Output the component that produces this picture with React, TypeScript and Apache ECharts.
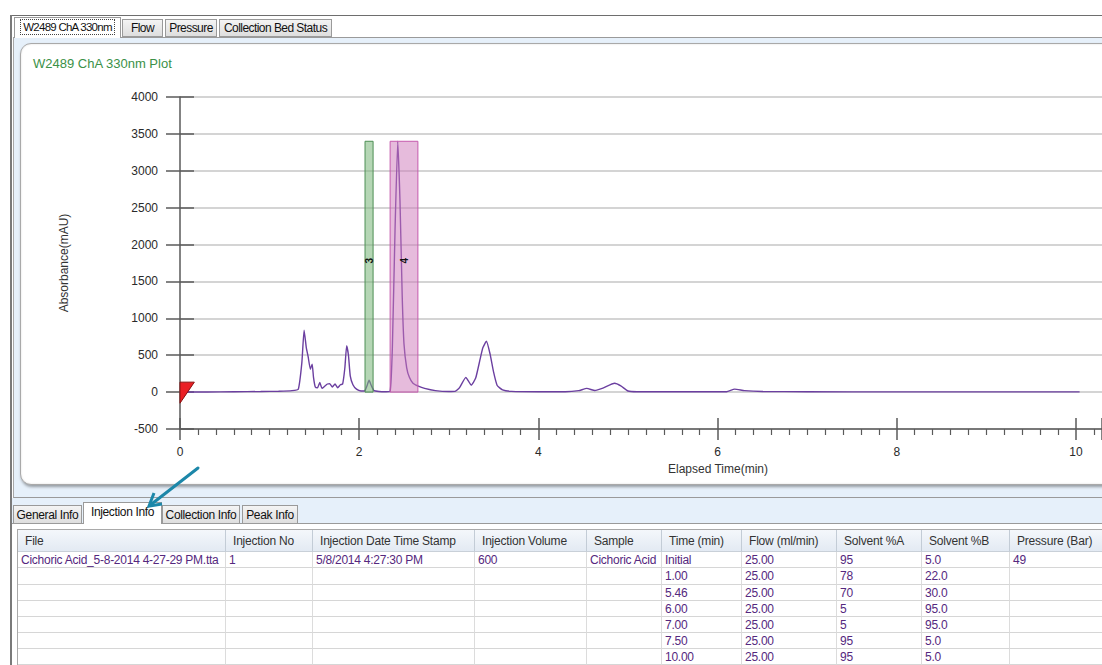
import React, { useEffect, useRef } from "react";
import * as echarts from "echarts";

// ---- Chromatogram data (Elapsed Time (min), Absorbance (mAU)) ----
const times = [
  0, 0.3, 0.6, 0.9, 1.1, 1.25, 1.32, 1.36, 1.385, 1.41, 1.43, 1.455, 1.475, 1.49, 1.51, 1.535, 1.56, 1.585,
  1.615, 1.645, 1.67, 1.7, 1.73, 1.76, 1.79, 1.815, 1.84, 1.86, 1.88, 1.9, 1.93, 1.97, 2.02, 2.06, 2.085,
  2.11, 2.135, 2.165, 2.22, 2.3, 2.345, 2.37, 2.4, 2.43, 2.455, 2.48, 2.5, 2.53, 2.56, 2.6, 2.66, 2.73,
  2.85, 3.0, 3.07, 3.12, 3.19, 3.25, 3.3, 3.35, 3.38, 3.42, 3.46, 3.5, 3.54, 3.6, 3.7, 4.0, 4.3, 4.45,
  4.54, 4.63, 4.72, 4.85, 4.92, 5.0, 5.1, 5.5, 6.1, 6.19, 6.3, 6.5, 7.0, 8.0, 9.0, 10.04,
];
const absorbance = [
  0, 2, 5, 8, 12, 20, 40, 400, 840, 600, 480, 310, 380, 200, 70, 60, 130, 50,
  80, 110, 115, 70, 110, 60, 100, 110, 330, 630, 500, 220, 100, 40, 15, 15, 80,
  160, 90, 20, 8, 5, 10, 600, 2200, 3400, 2600, 1300, 650, 330, 200, 120, 80, 50,
  20, 8, 10, 60, 200, 95, 190, 450, 600, 690, 520, 270, 90, 30, 10, 5, 5, 20,
  50, 22, 55, 120, 85, 15, 5, 4, 5, 40, 20, 8, 5, 3, 3, 3,
];

// Collected fractions
const fractions = [
  { label: "3", start: 2.065, end: 2.155, top: 3400 },
  { label: "4", start: 2.345, end: 2.655, top: 3400 },
];

// Injection marker triangle (data space)
const injectionMarker = [
  [0, 135],
  [0.16, 135],
  [0, -150],
];

// ---- UI text ----
const topTabs = ["W2489 ChA 330nm", "Flow", "Pressure", "Collection Bed Status"];
const bottomTabs = ["General Info", "Injection Info", "Collection Info", "Peak Info"];
const tableHeaders = [
  "File", "Injection No", "Injection Date Time Stamp", "Injection Volume", "Sample",
  "Time (min)", "Flow (ml/min)", "Solvent %A", "Solvent %B", "Pressure (Bar)",
];
const gradientTimes = ["Initial", "1.00", "5.46", "6.00", "7.00", "7.50", "10.00"];
const gradientFlow = ["25.00", "25.00", "25.00", "25.00", "25.00", "25.00", "25.00"];
const solventA = ["95", "78", "70", "5", "5", "95", "95"];
const solventB = ["5.0", "22.0", "30.0", "95.0", "95.0", "5.0", "5.0"];
const firstRow = ["Cichoric Acid_5-8-2014 4-27-29 PM.tta", "1", "5/8/2014 4:27:30 PM", "600", "Cichoric Acid"];
const pressure = ["49", "", "", "", "", "", ""];

const FONT = '"Liberation Sans", Arial, sans-serif';

const colLefts = [18, 226, 313, 475, 587, 662, 742, 837, 922, 1010, 1110];

function Chart() {
  const ref = useRef<HTMLDivElement>(null);
  useEffect(() => {
    if (!ref.current) return;
    const chart = echarts.init(ref.current, undefined, { renderer: "svg" });
    const data = times.map((t, i) => [t, absorbance[i]]);
    const axisColor = "#5a5a5a";
    const labelStyle = { color: "#2a2a2a", fontSize: 12, fontFamily: FONT };
    const xCommon = {
      type: "value" as const,
      min: 0,
      max: 10.29,
      interval: 2,
      gridIndex: 0,
    };
    const yCommon = {
      type: "value" as const,
      min: -500,
      max: 4000,
      interval: 500,
      gridIndex: 0,
    };
    const arrowFrom = [198, 468];
    const arrowTip = [149, 506];
    chart.setOption({
      animation: false,
      backgroundColor: "transparent",
      grid: { left: 180, top: 97, right: 0, bottom: 236, containLabel: false },
      xAxis: [
        {
          ...xCommon,
          position: "bottom",
          axisLine: { show: true, onZero: false, lineStyle: { color: axisColor, width: 1.5 } },
          axisTick: { show: true, inside: false, length: 11, lineStyle: { color: axisColor, width: 1.5 } },
          minorTick: { show: true, splitNumber: 10, length: 6, lineStyle: { color: axisColor, width: 1.2 } },
          axisLabel: { ...labelStyle, margin: 17, showMaxLabel: false, formatter: (v: number) => String(v) },
          splitLine: { show: false },
        },
        {
          ...xCommon,
          position: "bottom",
          axisLine: { show: false, onZero: false },
          axisTick: { show: true, inside: true, length: 11, lineStyle: { color: axisColor, width: 1.5 } },
          axisLabel: { show: false },
          splitLine: { show: false },
        },
      ],
      yAxis: [
        {
          ...yCommon,
          position: "left",
          axisLine: { show: true, onZero: false, lineStyle: { color: axisColor, width: 1.5 } },
          axisTick: { show: true, inside: false, length: 14, lineStyle: { color: axisColor, width: 1.5 } },
          axisLabel: { ...labelStyle, margin: 22, formatter: (v: number) => String(v) },
          splitLine: { show: true, lineStyle: { color: "#c6c6c6", width: 1.5 } },
        },
        {
          ...yCommon,
          position: "left",
          axisLine: { show: false, onZero: false },
          axisTick: { show: true, inside: true, length: 14, lineStyle: { color: axisColor, width: 1.5 } },
          axisLabel: { show: false },
          splitLine: { show: false },
        },
      ],
      series: [
        {
          type: "line",
          xAxisIndex: 0,
          yAxisIndex: 0,
          data,
          showSymbol: false,
          smooth: 0.15,
          lineStyle: { color: "#6b3fa0", width: 1.4 },
          z: 3,
          markArea: {
            silent: true,
            z: 4,
            label: {
              show: true,
              position: "inside",
              rotate: 90,
              color: "#111",
              fontSize: 10,
              fontWeight: "bold",
              fontFamily: FONT,
              offset: [6, 0],
            },
            data: fractions.map((f, i) => [
              {
                name: f.label,
                xAxis: f.start,
                yAxis: 0,
                itemStyle:
                  i === 0
                    ? { color: "rgba(120,180,120,0.55)", borderColor: "#4e8f55", borderWidth: 1 }
                    : { color: "rgba(205,120,185,0.5)", borderColor: "#c55aae", borderWidth: 1 },
              },
              { xAxis: f.end, yAxis: f.top },
            ]),
          },
        },
        {
          type: "custom",
          xAxisIndex: 0,
          yAxisIndex: 0,
          data: [[0, 0]],
          z: 6,
          renderItem: (_params: any, api: any) => {
            const pts = injectionMarker.map((p) => api.coord(p));
            return {
              type: "polygon",
              shape: { points: pts },
              style: { fill: "#ea1f25", stroke: "#8a1010", lineWidth: 1 },
            };
          },
        },
      ],
      graphic: [
        {
          type: "text",
          left: 33,
          top: 57,
          style: { text: "W2489 ChA 330nm Plot", fill: "#3b9147", fontSize: 13, fontFamily: FONT },
        },
        {
          type: "text",
          x: 64,
          y: 263,
          rotation: Math.PI / 2,
          style: {
            text: "Absorbance(mAU)",
            fill: "#333",
            fontSize: 12,
            fontFamily: FONT,
            align: "center",
            verticalAlign: "middle",
          },
        },
        {
          type: "text",
          x: 718,
          y: 469,
          style: {
            text: "Elapsed Time(min)",
            fill: "#333",
            fontSize: 12,
            fontFamily: FONT,
            align: "center",
            verticalAlign: "middle",
          },
        },
        {
          type: "line",
          shape: { x1: arrowFrom[0], y1: arrowFrom[1], x2: arrowTip[0] + 2, y2: arrowTip[1] - 1.5 },
          style: { stroke: "#1c87a9", lineWidth: 3, lineCap: "round" },
          z: 20,
        },
        {
          type: "polyline",
          shape: { points: [[162, 504], [arrowTip[0], arrowTip[1]], [154, 493]] },
          style: { stroke: "#1c87a9", lineWidth: 3, fill: null, lineJoin: "miter" },
          z: 20,
        },
      ],
    });
    return () => chart.dispose();
  }, []);
  return (
    <div
      ref={ref}
      style={{ position: "absolute", left: 0, top: 0, width: 1102, height: 665, zIndex: 5 }}
    />
  );
}

const abs = (s: React.CSSProperties): React.CSSProperties => ({ position: "absolute", boxSizing: "border-box", ...s });

export default function App() {
  const topTabPos = [
    [14, 121],
    [122, 163],
    [165, 217],
    [219, 332],
  ];
  const botTabPos = [
    [13, 82],
    [83, 162],
    [162, 240],
    [242, 298],
  ];
  const rows: string[][] = gradientTimes.map((t, i) => [
    ...(i === 0 ? firstRow : ["", "", "", "", ""]),
    t,
    gradientFlow[i],
    solventA[i],
    solventB[i],
    pressure[i],
  ]);
  const rowTops = [552, 568, 585, 601, 617, 633, 649, 665];
  return (
    <div
      style={abs({
        left: 0,
        top: 0,
        width: 1102,
        height: 665,
        overflow: "hidden",
        background: "#fff",
        fontFamily: FONT,
        fontSize: 12,
        color: "#222",
      })}
    >
      {/* window frame */}
      <div style={abs({ left: 10, top: 15, width: 1092, height: 1, background: "#6e6e6e" })} />
      <div style={abs({ left: 10, top: 15, width: 2, height: 650, background: "#7a7a7a" })} />

      {/* top tab content area */}
      <div
        style={abs({
          left: 13,
          top: 37,
          width: 1100,
          height: 461,
          background: "#e6f0fa",
          borderTop: "1px solid #9a9a9a",
          borderLeft: "1px solid #a8a8a8",
          borderBottom: "1px solid #9a9a9a",
        })}
      />
      {/* top tabs */}
      {topTabs.map((t, i) => {
        const [l, r] = topTabPos[i];
        const sel = i === 0;
        return (
          <div
            key={t}
            style={abs({
              left: l,
              top: sel ? 17 : 19,
              width: r - l,
              height: sel ? 21 : 18,
              background: sel ? "#fff" : "linear-gradient(#f4f4f4, #dedede)",
              border: "1px solid #9a9a9a",
              borderBottom: sel ? "none" : "1px solid #9a9a9a",
              fontSize: sel ? 11.5 : 12,
              letterSpacing: sel ? -0.75 : -0.55,
              lineHeight: sel ? "19px" : "17px",
              textAlign: "center",
              color: "#111",
              whiteSpace: "nowrap",
            })}
          >
            {sel ? (
              <span style={{ border: "1px dotted #444", padding: "0 2px", display: "inline-block", lineHeight: "14px" }}>
                {t}
              </span>
            ) : (
              t
            )}
          </div>
        );
      })}

      {/* chart panel */}
      <div
        style={abs({
          left: 20,
          top: 43,
          width: 1110,
          height: 442,
          background: "#fff",
          border: "1px solid #a9a9a9",
          borderRadius: 11,
          boxShadow: "1px 2px 3px rgba(0,0,0,0.35), inset 0 0 2px rgba(0,0,0,0.15)",
        })}
      />

      {/* bottom tab strip */}
      <div
        style={abs({
          left: 12,
          top: 498,
          width: 1090,
          height: 26,
          background: "#e6f0fa",
        })}
      />
      <div style={abs({ left: 12, top: 523, width: 1090, height: 1, background: "#9a9a9a" })} />
      {bottomTabs.map((t, i) => {
        const [l, r] = botTabPos[i];
        const sel = i === 1;
        return (
          <div
            key={t}
            style={abs({
              left: l,
              top: sel ? 502 : 505,
              width: r - l,
              height: sel ? 22 : 19,
              background: sel ? "#fff" : "linear-gradient(#f4f4f4, #dedede)",
              border: "1px solid #9a9a9a",
              borderBottom: sel ? "none" : "1px solid #9a9a9a",
              fontSize: 12,
              letterSpacing: -0.35,
              lineHeight: sel ? "19px" : "18px",
              textAlign: "center",
              color: "#111",
              whiteSpace: "nowrap",
              zIndex: sel ? 2 : 1,
            })}
          >
            {t}
          </div>
        );
      })}

      {/* table */}
      <div style={abs({ left: 17, top: 529, width: 1090, height: 140, border: "1px solid #a9a9a9" })} />
      {tableHeaders.map((h, i) => (
        <div
          key={h}
          style={abs({
            left: colLefts[i],
            top: 530,
            width: colLefts[i + 1] - colLefts[i],
            height: 22,
            background: "linear-gradient(#f4f7fb, #e3eaf3)",
            borderRight: "1px solid #c3ccd6",
            borderBottom: "1px solid #c9d0d8",
            paddingLeft: 7,
            paddingTop: 2,
            lineHeight: "19px",
            color: "#333",
            whiteSpace: "nowrap",
            overflow: "hidden",
            letterSpacing: -0.2,
          })}
        >
          {h}
        </div>
      ))}
      {rows.map((row, r) =>
        row.map((c, i) => (
          <div
            key={r + "-" + i}
            style={abs({
              left: colLefts[i],
              top: rowTops[r],
              width: colLefts[i + 1] - colLefts[i],
              height: rowTops[r + 1] - rowTops[r],
              borderRight: "1px solid #dcdcdc",
              borderBottom: "1px solid #d6d6d6",
              paddingLeft: 3,
              paddingTop: 1,
              lineHeight: rowTops[r + 1] - rowTops[r] - 2 + "px",
              color: "#55287e",
              whiteSpace: "nowrap",
              overflow: "visible",
              letterSpacing: -0.25,
            })}
          >
            {c}
          </div>
        ))
      )}

      <Chart />
    </div>
  );
}
